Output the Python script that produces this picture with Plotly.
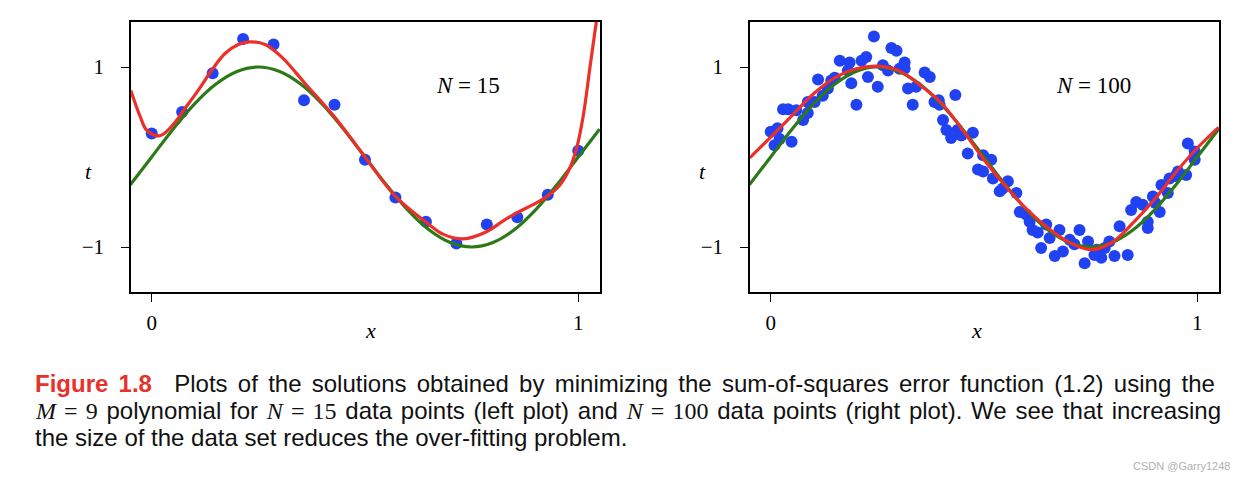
import plotly.graph_objects as go

# ---------------- data ----------------
x15 = [0.0, 0.0714, 0.1429, 0.2143, 0.2857, 0.3571, 0.4286, 0.5, 0.5714,
       0.6429, 0.7143, 0.7857, 0.8571, 0.9286, 1.0]
t15 = [0.26, 0.50, 0.93, 1.31, 1.25, 0.63, 0.58, -0.03, -0.45,
       -0.72, -0.96, -0.75, -0.67, -0.42, 0.07]

fit15_x = [-0.049, -0.027, -0.012, 0.019, 0.059, 0.072, 0.109, 0.143, 0.172,
           0.203, 0.23, 0.266, 0.305, 0.359, 0.428, 0.5, 0.572, 0.645, 0.684,
           0.73, 0.785, 0.824, 0.856, 0.894, 0.926, 0.957, 0.98, 0.996, 1.012,
           1.027, 1.039, 1.05]
fit15_y = [0.74, 0.45, 0.30, 0.236, 0.41, 0.50, 0.74, 0.98, 1.15,
           1.25, 1.28, 1.25, 1.11, 0.82, 0.45, 0.0, -0.44, -0.73, -0.86,
           -0.91, -0.83, -0.71, -0.62, -0.53, -0.44, -0.31, -0.125, 0.096, 0.465,
           0.98, 1.39, 1.75]

true_x = [-0.05, 0.0, 0.05, 0.1, 0.15, 0.2, 0.25, 0.3, 0.35, 0.4, 0.45, 0.5,
          0.55, 0.6, 0.65, 0.7, 0.75, 0.8, 0.85, 0.9, 0.95, 1.0, 1.05]
true_y = [-0.309, 0.0, 0.309, 0.588, 0.809, 0.951, 1.0, 0.951, 0.809, 0.588,
          0.309, 0.0, -0.309, -0.588, -0.809, -0.951, -1.0, -0.951, -0.809,
          -0.588, -0.309, 0.0, 0.309]

x100 = [0.0, 0.016, 0.009, 0.049, 0.029, 0.041, 0.060, 0.076, 0.087, 0.103,
        0.111, 0.134, 0.142, 0.150, 0.162, 0.181, 0.189, 0.201, 0.213, 0.224,
        0.228, 0.242, 0.251, 0.263, 0.275, 0.283, 0.295, 0.302, 0.314, 0.322,
        0.333, 0.341, 0.361, 0.373, 0.384, 0.396, 0.404, 0.412, 0.423, 0.433,
        0.447, 0.462, 0.474, 0.486, 0.498, 0.498, 0.517, 0.521, 0.537, 0.556,
        0.576, 0.584, 0.599, 0.607, 0.626, 0.646, 0.634, 0.654, 0.666, 0.677,
        0.685, 0.701, 0.724, 0.736, 0.744, 0.759, 0.775, 0.783, 0.794, 0.806,
        0.837, 0.818, 0.845, 0.857, 0.872, 0.884, 0.896, 0.912, 0.916, 0.931,
        0.935, 0.955, 0.974, 0.978, 0.994, 0.994, 0.884, 0.544, 0.614, 0.712,
        0.764, 0.394, 0.314, 0.185, 0.122, 0.087, 0.021, 0.438, 0.949, 0.902]
t100 = [0.28, 0.32, 0.13, 0.17, 0.53, 0.53, 0.52, 0.41, 0.61, 0.61,
        0.86, 0.76, 0.85, 0.88, 1.07, 0.96, 0.82, 0.58, 1.07, 1.11,
        0.89, 1.34, 0.78, 1.02, 0.96, 1.21, 1.18, 0.98, 0.98, 0.76,
        0.58, 0.78, 0.94, 0.89, 0.61, 0.58, 0.41, 0.30, 0.21, 0.69,
        0.24, 0.04, 0.27, -0.14, 0.02, -0.16, -0.03, -0.24, -0.38, -0.27,
        -0.40, -0.61, -0.64, -0.72, -0.84, -0.75, -1.01, -0.90, -1.10, -0.81,
        -1.05, -0.92, -0.81, -1.18, -0.94, -1.09, -1.12, -1.01, -0.94, -1.10,
        -1.09, -0.77, -0.59, -0.50, -0.53, -0.79, -0.44, -0.61, -0.31, -0.40,
        -0.24, -0.16, -0.20, 0.15, -0.03, 0.06, -0.72, -0.35, -0.81, -0.97,
        -1.03, 0.63, 1.05, 1.05, 0.68, 0.49, 0.20, 0.30, -0.21, -0.51]

fit100_x = [-0.049, 0.0, 0.05, 0.1, 0.15, 0.2, 0.25, 0.3, 0.35, 0.4, 0.45, 0.5,
            0.55, 0.6, 0.65, 0.7, 0.75, 0.8, 0.85, 0.9, 0.95, 1.0, 1.05]
fit100_y = [-0.01, 0.22, 0.46, 0.70, 0.88, 0.98, 1.01, 0.96, 0.80, 0.60, 0.30,
            -0.03, -0.32, -0.58, -0.79, -0.95, -1.03, -0.95, -0.73, -0.47, -0.17,
            0.10, 0.33]

x_ticks = [0, 1]
x_ticklabels = ["0", "1"]
y_ticks = [-1, 1]
y_ticklabels = ["\u22121", "1"]
panel_labels = ["<i>N</i> = 15", "<i>N</i> = 100"]

# ---------------- styling ----------------
W, H = 1246, 483
OFF = 8  # page body margin


def px(p):
    return (p - OFF) / W


def py(p):
    return 1 - (p - OFF) / H


BLUE = "#2142f2"
RED = "#ec3029"
GREEN = "#2c7a17"
SERIF = "Liberation Serif"
SANS = "Liberation Sans"

fig = go.Figure()

panels = [
    (x15, t15, fit15_x, fit15_y, "x", "y"),
    (x100, t100, fit100_x, fit100_y, "x2", "y2"),
]
for dx, dy, fx, fy, xa, ya in panels:
    fig.add_trace(go.Scatter(x=dx, y=dy, mode="markers", xaxis=xa, yaxis=ya,
                             marker=dict(color=BLUE, size=12, line=dict(width=0)),
                             showlegend=False, hoverinfo="skip"))
    fig.add_trace(go.Scatter(x=true_x, y=true_y, mode="lines", xaxis=xa, yaxis=ya,
                             line=dict(color=GREEN, width=3.2, shape="spline"),
                             showlegend=False, hoverinfo="skip"))
    fig.add_trace(go.Scatter(x=fx, y=fy, mode="lines", xaxis=xa, yaxis=ya,
                             line=dict(color=RED, width=3.2, shape="spline"),
                             showlegend=False, hoverinfo="skip"))

x_left = [px(131), px(600)]
x_right = [px(750), px(1219)]
y_dom = [py(292), py(22)]

axis_common = dict(showgrid=False, zeroline=False, showline=True, linecolor="black",
                   linewidth=1.6, mirror=True, ticks="outside", ticklen=8,
                   tickwidth=1.4, tickcolor="black",
                   tickfont=dict(family=SERIF, size=21, color="black"))

fig.update_layout(
    width=W, height=H, margin=dict(l=0, r=0, t=0, b=0),
    paper_bgcolor="white", plot_bgcolor="white", showlegend=False,
    xaxis=dict(domain=x_left, range=[-0.0485, 1.051], tickvals=x_ticks,
               ticktext=x_ticklabels, anchor="y", ticklabelstandoff=3, **axis_common),
    yaxis=dict(domain=y_dom, range=[-1.5, 1.5], tickvals=y_ticks,
               ticktext=y_ticklabels, anchor="x", ticklabelstandoff=13, **axis_common),
    xaxis2=dict(domain=x_right, range=[-0.0485, 1.051], tickvals=x_ticks,
                ticktext=x_ticklabels, anchor="y2", ticklabelstandoff=3, **axis_common),
    yaxis2=dict(domain=y_dom, range=[-1.5, 1.5], tickvals=y_ticks,
                ticktext=y_ticklabels, anchor="x2", ticklabelstandoff=13, **axis_common),
)

ann = []
# panel labels
ann.append(dict(x=0.741, y=0.80, xref="x", yref="y", text=panel_labels[0],
                showarrow=False, font=dict(family=SERIF, size=23, color="black")))
ann.append(dict(x=0.757, y=0.80, xref="x2", yref="y2", text=panel_labels[1],
                showarrow=False, font=dict(family=SERIF, size=23, color="black")))
# axis labels
for xc, tc in [(363, 83), (984, 702)]:
    ann.append(dict(x=px(xc), y=py(330), xref="paper", yref="paper", text="<i>x</i>",
                    showarrow=False, font=dict(family=SERIF, size=22, color="black")))
    ann.append(dict(x=px(tc), y=py(171), xref="paper", yref="paper", text="<i>t</i>",
                    showarrow=False, font=dict(family=SERIF, size=22, color="black")))

# caption
cap_font = dict(family=SANS, size=24, color="#111111")
MS = '<span style="font-family:Liberation Serif">'
line1 = ('<span style="word-spacing:3.6px"><span style="color:#e8312a"><b>Figure 1.8</b></span>'
         '\u2002 Plots of the solutions obtained by minimizing the sum-of-squares error function (1.2) using the</span>')
line2 = ('<span style="word-spacing:2.1px">' + MS + '<i>M</i> = 9</span> polynomial for ' + MS
         + '<i>N</i> = 15</span> data points (left plot) and '
         + MS + '<i>N</i> = 100</span> data points (right plot). We see that increasing</span>')
line3 = 'the size of the data set reduces the over-fitting problem.'
for i, txt in enumerate([line1, line2, line3]):
    ann.append(dict(x=px(33), y=py(383 + 27 * i), xref="paper", yref="paper",
                    xanchor="left", yanchor="middle", text=txt, showarrow=False,
                    font=cap_font))
ann.append(dict(x=px(1232), y=py(466), xref="paper", yref="paper", xanchor="right",
                yanchor="middle", text="CSDN @Garry1248", showarrow=False,
                font=dict(family=SANS, size=11, color="#b0b0b0")))

fig.update_layout(annotations=ann)
fig.write_html("out.html")
